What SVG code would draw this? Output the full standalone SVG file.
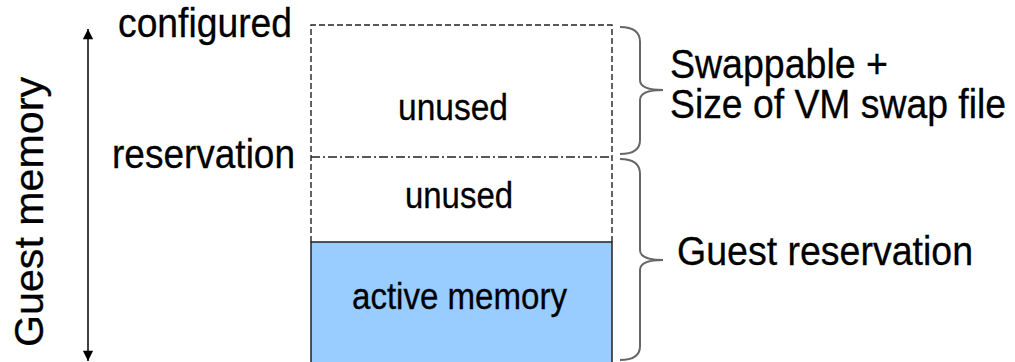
<svg xmlns="http://www.w3.org/2000/svg" width="1015" height="362" viewBox="0 0 1015 362">
<style>
text{font-family:"Liberation Sans",Arial,sans-serif;fill:#000;stroke:#000;stroke-width:0.3}
.big{font-size:40px}
.sm{font-size:36px}
.dash{fill:none;stroke:#222;stroke-width:1.4;stroke-dasharray:6 3}
.brace{fill:none;stroke:#666;stroke-width:2}
</style>
<defs>
<marker id="ah" viewBox="0 0 12 14" refX="12" refY="7" markerWidth="14" markerHeight="12" markerUnits="userSpaceOnUse" orient="auto">
<path d="M0,1 L12,7 L0,13 z" fill="#000"/>
</marker>
</defs>
<rect width="1015" height="362" fill="#fff"/>
<g id="axis">
<line x1="88" y1="195" x2="88" y2="29" stroke="#000" stroke-width="1.5" marker-end="url(#ah)"/>
<line x1="88" y1="195" x2="88" y2="361" stroke="#000" stroke-width="1.5" marker-end="url(#ah)"/>
<text class="big" transform="translate(43,347) rotate(-90)" style="font-size:41px" textLength="270" lengthAdjust="spacingAndGlyphs">Guest memory</text>
</g>
<g id="labels-left">
<text class="big" x="118" y="37" textLength="174" lengthAdjust="spacingAndGlyphs">configured</text>
<text class="big" x="112" y="168" textLength="183" lengthAdjust="spacingAndGlyphs">reservation</text>
</g>
<g id="unused-top">
<path class="dash" d="M311,242 V25 H612 V242"/>
<text class="sm" x="398" y="120" textLength="110" lengthAdjust="spacingAndGlyphs">unused</text>
</g>
<g id="reservation-line">
<line x1="311" y1="157" x2="612" y2="157" stroke="#222" stroke-width="1.4" stroke-dasharray="9 3 2 3"/>
</g>
<g id="unused-bottom">
<text class="sm" x="405" y="208" textLength="108" lengthAdjust="spacingAndGlyphs">unused</text>
</g>
<g id="active-memory">
<rect x="311" y="242" width="301" height="130" fill="#99CCFF" stroke="#222" stroke-width="1.5"/>
<text class="sm" x="352" y="309" textLength="215" lengthAdjust="spacingAndGlyphs">active memory</text>
</g>
<g id="connectors">
<path class="brace" d="M620,27 Q640,27 640,42 V80 Q640,90 663,90 Q640,90 640,100 V140 Q640,154 620,154"/>
<path class="brace" d="M620,159 Q640,159 640,174 V250 Q640,260 663,260 Q640,260 640,270 V346 Q640,360 620,360"/>
</g>
<g id="swappable">
<text class="big" x="670" y="78" textLength="218" lengthAdjust="spacingAndGlyphs">Swappable +</text>
<text transform="translate(670,118) scale(1,1.08)" style="font-size:37px" textLength="336" lengthAdjust="spacingAndGlyphs">Size of VM swap file</text>
</g>
<g id="guest-reservation">
<text class="big" x="677" y="265" textLength="296" lengthAdjust="spacingAndGlyphs">Guest reservation</text>
</g>
</svg>
